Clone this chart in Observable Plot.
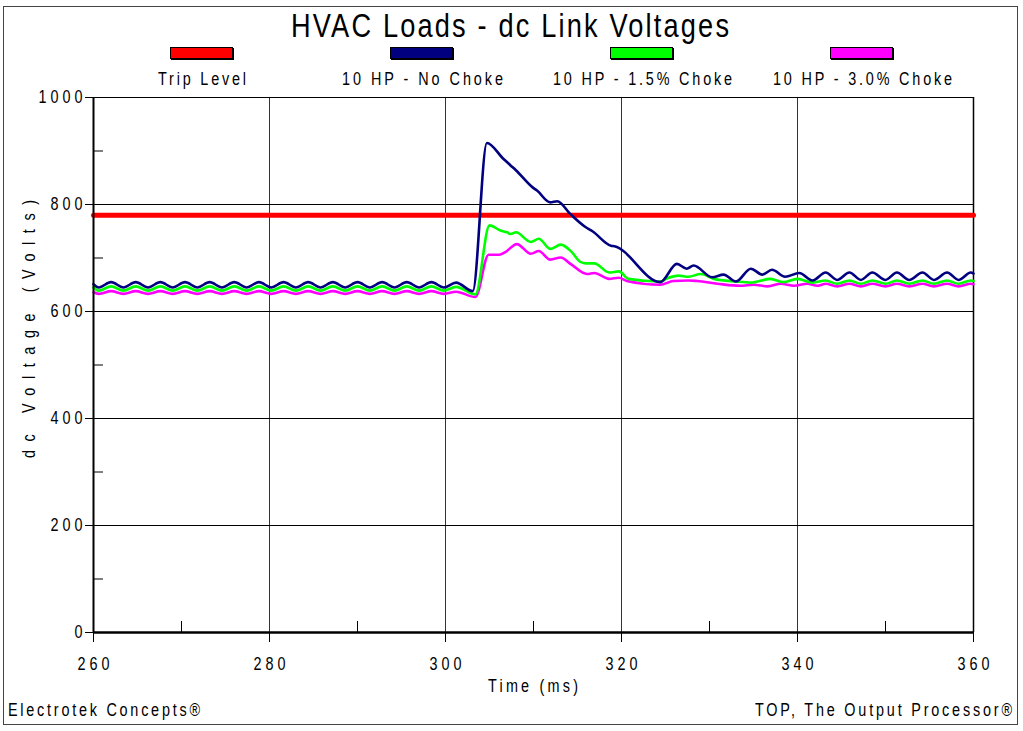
<!DOCTYPE html>
<html>
<head>
<meta charset="utf-8">
<script src="https://cdn.jsdelivr.net/npm/d3@7"></script>
<script src="https://cdn.jsdelivr.net/npm/@observablehq/plot@0.6"></script>
<style>
  body { margin: 0; background: #fff; }
  #wrap { position: relative; width: 1023px; height: 731px; overflow: hidden;
          font-family: "Liberation Sans", Arial, sans-serif; color: #000; }
  #frame { position: absolute; left: 3px; top: 6px; width: 1015px; height: 719px; border: 1px solid #444; box-sizing: border-box; }
  .sw { position: absolute; width: 61px; height: 10px; border: 1px solid #000; box-shadow: 1px 1px 0 #000; }
  .txt { position: absolute; white-space: nowrap; }
  #chart { position: absolute; left: 0; top: 0; }
  #chart svg text { font-family: "Liberation Sans", Arial, sans-serif; }
</style>
</head>
<body>
<div id="wrap">
  <div id="frame"></div>
  <div id="chart"></div>
  <div id="title" class="txt">HVAC Loads - dc Link Voltages</div>
  <div id="legend"></div>
  <div id="xlab" class="txt">Time (ms)</div>
  <div id="ylab" class="txt">dc Voltage (Volts)</div>
  <div id="fl" class="txt">Electrotek Concepts®</div>
  <div id="fr" class="txt">TOP, The Output Processor®</div>
</div>
<script>
// ---- data ----
const seriesNames  = ["Trip Level", "10 HP - No Choke", "10 HP - 1.5% Choke", "10 HP - 3.0% Choke"];
const seriesColors = ["#ff0000", "#000080", "#00ff00", "#ff00ff"];

const xTicks = [260, 280, 300, 320, 340, 360];
const xMinor = [270, 290, 310, 330, 350];
const yTicks = [0, 200, 400, 600, 800, 1000];
const yMinor = [100, 300, 500, 700, 900];

const tripLevel = [[260, 780], [360, 780]];

const noChoke = [
  [260.0,651],[260.6,645],[262.0,655],[263.4,645],[264.8,655],[266.2,645],[267.6,655],[269.0,645],
  [270.4,655],[271.8,645],[273.2,655],[274.6,645],[276.0,655],[277.4,645],[278.8,655],[280.2,645],
  [281.6,655],[283.0,645],[284.4,655],[285.8,645],[287.2,655],[288.6,645],[290.0,655],[291.4,645],
  [292.8,655],[294.2,645],[295.6,655],[297.0,645],[298.4,655],[299.8,645],[301.2,654],[303.1,638],
  [304.7,915],[306.6,885],[307.4,873],[308.0,864],[309.9,832],[310.4,826],[311.9,804],[312.7,806],
  [314.2,782],[315.9,758],[316.7,750],[318.8,723],[319.2,722],[324.4,655],[326.3,689],[327.4,680],
  [328.2,686],[330.3,664],[331.6,669],[333.0,656],[334.7,680],[336.0,669],[337.1,678],[338.6,665],
  [340.2,672],[341.7,658],[343.2,673],[344.5,659],[345.9,673],[347.2,659],[348.5,673],[350.0,659],
  [351.3,673],[352.7,659],[354.2,673],[355.5,659],[357.0,673],[358.3,659],[359.7,673],[360.0,671]
];

const choke15 = [
  [260.0,645],[260.6,639],[262.0,647],[263.4,639],[264.8,647],[266.2,639],[267.6,647],[269.0,639],
  [270.4,647],[271.8,639],[273.2,647],[274.6,639],[276.0,647],[277.4,639],[278.8,647],[280.2,639],
  [281.6,647],[283.0,639],[284.4,647],[285.8,639],[287.2,647],[288.6,639],[290.0,647],[291.4,639],
  [292.8,647],[294.2,639],[295.6,647],[297.0,639],[298.4,647],[299.8,639],[301.2,646],[303.4,632],
  [305.0,761],[306.3,751],[307.0,748],[307.4,745],[308.0,748],[309.7,730],[310.6,736],[311.9,717],
  [313.1,725],[314.3,712],[315.3,693],[315.9,690],[316.9,690],[318.6,673],[319.7,675],[320.8,661],
  [324.4,656],[325.2,662],[326.5,667],[327.6,665],[329.0,670],[330.5,661],[333.0,656],[334.7,654],
  [336.9,661],[338.4,655],[340.0,661],[341.7,654],[343.2,658],[344.5,652],[345.9,658],[347.2,652],
  [348.5,658],[350.0,652],[351.3,658],[352.7,652],[354.2,658],[355.5,652],[357.0,658],[358.3,652],
  [359.7,658],[360.0,657]
];

const choke30 = [
  [260.0,636],[260.6,633],[262.0,638],[263.4,633],[264.8,638],[266.2,633],[267.6,638],[269.0,633],
  [270.4,638],[271.8,633],[273.2,638],[274.6,633],[276.0,638],[277.4,633],[278.8,638],[280.2,633],
  [281.6,638],[283.0,633],[284.4,638],[285.8,633],[287.2,638],[288.6,633],[290.0,638],[291.4,633],
  [292.8,638],[294.2,633],[295.6,638],[297.0,633],[298.4,638],[299.8,633],[301.2,637],[303.4,627],
  [304.9,706],[306.1,706],[306.8,711],[308.1,726],[309.7,708],[310.6,713],[311.9,697],[313.1,701],
  [314.2,689],[316.1,670],[316.9,672],[318.6,661],[319.7,663],[320.6,657],[324.4,650],[325.9,657],
  [327.6,658],[328.6,657],[330.9,652],[333.5,648],[335.0,650],[336.6,647],[338.1,652],[339.6,648],
  [341.1,652],[342.3,648],[343.2,652],[344.5,647],[345.9,652],[347.2,647],[348.5,652],[350.0,647],
  [351.3,652],[352.7,647],[354.2,652],[355.5,647],[357.0,652],[358.3,647],[359.7,652],[360.0,651]
];

// ---- text placement helper (narrow, letter-spaced look of the original) ----
const SX = 0.8;
function placeText(el, {x, anchor = "start", baseline, size, width, scale = SX, rotate = false}) {
  el.style.fontSize = size + "px";
  el.style.lineHeight = "1";
  el.style.letterSpacing = "0px";
  el.style.transform = "none";
  el.style.transformOrigin = "0 0";
  el.style.left = "0px";
  el.style.top = "0px";
  const w = el.getBoundingClientRect().width;
  const n = [...el.textContent].length;
  const ls = n > 1 ? (width / scale - w) / (n - 1) : 0;
  el.style.letterSpacing = ls + "px";
  if (rotate) {
    // x = baseline x position, baseline param = starting y (bottom)
    el.style.transform = `translate(${x - 0.8465 * size}px, ${baseline}px) rotate(-90deg) scale(${scale}, 1)`;
    return;
  }
  const left = anchor === "middle" ? x - width / 2 : anchor === "end" ? x - width : x;
  el.style.left = left + "px";
  el.style.top = (baseline - 0.8465 * size) + "px";
  el.style.transform = `scale(${scale}, 1)`;
}

// ---- legend ----
const legend = document.getElementById("legend");
const legendWidths = [88, 161, 179, 179];
seriesNames.forEach((name, i) => {
  const cx = 201.5 + i * 220;
  const sw = document.createElement("div");
  sw.className = "sw";
  sw.style.left = (cx - 32) + "px";
  sw.style.top = "47px";
  sw.style.background = seriesColors[i];
  legend.appendChild(sw);
  const lb = document.createElement("div");
  lb.className = "txt";
  lb.textContent = name;
  legend.appendChild(lb);
  placeText(lb, {x: cx + 0.5, anchor: "middle", baseline: 85, size: 18, width: legendWidths[i]});
});

placeText(document.getElementById("title"), {x: 510, anchor: "middle", baseline: 37, size: 34, width: 438});
placeText(document.getElementById("xlab"), {x: 533, anchor: "middle", baseline: 692, size: 18, width: 90});
placeText(document.getElementById("fl"), {x: 8, anchor: "start", baseline: 716, size: 18, width: 192});
placeText(document.getElementById("fr"), {x: 1012, anchor: "end", baseline: 716, size: 18, width: 257});
placeText(document.getElementById("ylab"), {x: 35, baseline: 458, size: 18, width: 258, rotate: true});

// ---- chart ----
const lineOpts = {x: d => d[0], y: d => d[1], curve: "monotone-x", strokeWidth: 2.6, strokeLinejoin: "round"};

const chart = Plot.plot({
  width: 1023,
  height: 731,
  marginLeft: 93,
  marginRight: 50,
  marginTop: 97,
  marginBottom: 99,
  style: {background: "transparent", overflow: "visible"},
  x: {domain: [260, 360]},
  y: {domain: [0, 1000]},
  marks: [
    Plot.gridX(xTicks.slice(1, -1), {stroke: "#333", strokeOpacity: 1, strokeWidth: 1}),
    Plot.gridY(yTicks.slice(1), {stroke: "#000", strokeOpacity: 1, strokeWidth: 1}),
    Plot.ruleX([360], {stroke: "#000", strokeWidth: 1.5}),
    Plot.tickY(yMinor, {y: d => d, stroke: "#000", insetRight: 870}),
    Plot.tickX(xMinor, {x: d => d, stroke: "#000", insetTop: 524}),
    Plot.axisX({ticks: xTicks, tickSize: 10, tickPadding: 15, fontSize: 18, label: null, tickFormat: d => String(d)}),
    Plot.axisY({ticks: yTicks, tickSize: 8, tickPadding: -1, fontSize: 18, label: null, tickFormat: d => String(d)}),
    Plot.line(tripLevel, {x: d => d[0], y: d => d[1], stroke: seriesColors[0], strokeWidth: 5}),
    Plot.line(choke30, {...lineOpts, stroke: seriesColors[3]}),
    Plot.line(choke15, {...lineOpts, stroke: seriesColors[2]}),
    Plot.line(noChoke, {...lineOpts, stroke: seriesColors[1]}),
    Plot.ruleX([260], {stroke: "#000", strokeWidth: 2}),
    Plot.ruleY([0], {stroke: "#000", strokeWidth: 2.5})
  ]
});

// narrow, letter-spaced tick labels like the original
const TICK_LS = 5;
d3.select(chart).selectAll('[aria-label="y-axis tick label"] text').each(function () {
  const t = this.getAttribute("transform") || "";
  this.setAttribute("transform", `${t} scale(${SX},1)`);
  this.style.letterSpacing = TICK_LS + "px";
});
d3.select(chart).selectAll('[aria-label="x-axis tick label"] text').each(function () {
  const t = this.getAttribute("transform") || "";
  this.setAttribute("transform", `${t} scale(${SX},1) translate(${TICK_LS / 2},0)`);
  this.style.letterSpacing = TICK_LS + "px";
});

document.getElementById("chart").appendChild(chart);
</script>
</body>
</html>
